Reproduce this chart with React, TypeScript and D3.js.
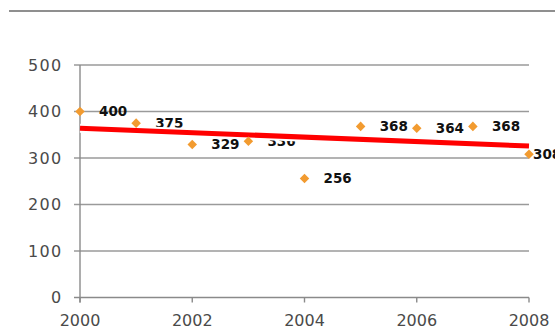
import React from "react";
import * as d3 from "d3";

const years = [2000, 2001, 2002, 2003, 2004, 2005, 2006, 2007, 2008];
const values = [400, 375, 329, 336, 256, 368, 364, 368, 308];
const yTicks = [0, 100, 200, 300, 400, 500];
const xTicks = [2000, 2002, 2004, 2006, 2008];

const W = 555;
const H = 328;

export default function App() {
  const x = d3.scaleLinear().domain([2000, 2008]).range([80, 529]);
  const y = d3.scaleLinear().domain([0, 500]).range([297.5, 65]);

  // least-squares trend line
  const mx = d3.mean(years)!;
  const my = d3.mean(values)!;
  const sxy = d3.sum(years, (v, i) => (v - mx) * (values[i] - my));
  const sxx = d3.sum(years, (v) => (v - mx) ** 2);
  const slope = sxy / sxx;
  const trend = (t: number) => my + slope * (t - mx);
  const trendLine = d3.line<number>().x((t) => x(t)).y((t) => y(trend(t)));

  const diamond = d3.symbol().type(d3.symbolDiamond2).size(58)()!;
  const labelFont = "'DejaVu Sans', Verdana, sans-serif";

  return (
    <svg
      width={W}
      height={H}
      style={{ position: "absolute", left: 0, top: 0, background: "#fff" }}
    >
      <line x1={9} x2={W} y1={11} y2={11} stroke="#8f8f8f" strokeWidth={2.2} />

      {yTicks.slice(1).map((t) => (
        <line key={"g" + t} x1={74} x2={529} y1={y(t)} y2={y(t)} stroke="#9a9a9a" strokeWidth={1.4} />
      ))}
      <line x1={74} x2={529} y1={y(0)} y2={y(0)} stroke="#8a8a8a" strokeWidth={1.4} />
      <line x1={80} x2={80} y1={y(500)} y2={y(0) + 5} stroke="#8a8a8a" strokeWidth={1.4} />
      {xTicks.map((t) => (
        <line key={"xt" + t} x1={x(t)} x2={x(t)} y1={y(0)} y2={y(0) + 5} stroke="#8a8a8a" strokeWidth={1.4} />
      ))}

      {yTicks.map((t) => (
        <text
          key={"yl" + t}
          x={62.5}
          y={y(t)}
          dy="0.36em"
          textAnchor="end"
          fontFamily={labelFont}
          fontSize={16}
          letterSpacing={1.3}
          fill="#4a4a4a"
        >
          {t}
        </text>
      ))}
      {xTicks.map((t) => (
        <text
          key={"xl" + t}
          x={x(t)}
          y={325.5}
          textAnchor="middle"
          fontFamily={labelFont}
          fontSize={16}
          fill="#4a4a4a"
        >
          {t}
        </text>
      ))}

      {years.map((t, i) => (
        <text
          key={"dl" + t}
          x={Math.min(x(t) + 19, 533)}
          y={y(values[i])}
          dy="0.36em"
          fontFamily={labelFont}
          fontWeight="bold"
          fontSize={13.5}
          fill="#111"
        >
          {values[i]}
        </text>
      ))}

      <path d={trendLine([2000, 2008])!} fill="none" stroke="#fff" strokeWidth={9} />
      <path d={trendLine([2000, 2008])!} fill="none" stroke="#ff0000" strokeWidth={5} />

      {years.map((t, i) => (
        <path
          key={"p" + t}
          d={diamond}
          transform={`translate(${x(t)},${y(values[i])})`}
          fill="#f29b30"
        />
      ))}
    </svg>
  );
}
